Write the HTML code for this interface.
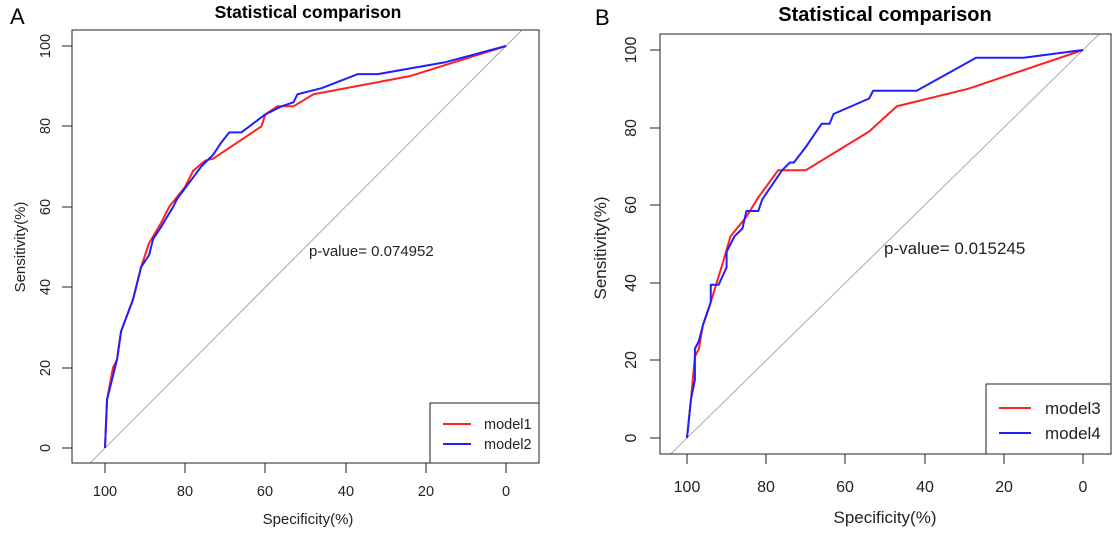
<!DOCTYPE html>
<html><head><meta charset="utf-8"><style>
html,body{margin:0;padding:0;background:#fff;}
svg{display:block;font-family:"Liberation Sans",sans-serif;}
</style></head><body>
<svg width="1119" height="534" viewBox="0 0 1119 534" xmlns="http://www.w3.org/2000/svg">
<defs>
<clipPath id="ca"><rect x="72" y="30" width="467" height="433"/></clipPath>
<clipPath id="cb"><rect x="660" y="34" width="451" height="420"/></clipPath>
</defs>
<!-- Panel A -->
<text x="10" y="24" font-size="22">A</text>
<text x="308" y="18" font-size="17.5" font-weight="bold" text-anchor="middle">Statistical comparison</text>
<g clip-path="url(#ca)">
<g transform="translate(105,448) scale(4.01,-4.02)" fill="none" stroke-linejoin="round">
<line x1="-20" y1="-20" x2="120" y2="120" stroke="#aaa" stroke-width="1" vector-effect="non-scaling-stroke"/>
<polyline stroke="#ff2020" stroke-width="2" vector-effect="non-scaling-stroke" points="0,0 0.5,12 2,20 3,22 4,29 7,37 9,45 11,51 14,56 16,60 20,65 22,69 25,71.5 27,72 39,80 40,83 43,85 47,85 52,88 76,92.5 100,100"/>
<polyline stroke="#2020ff" stroke-width="2" vector-effect="non-scaling-stroke" points="0,0 0.5,12 3,22 4,29 7,37 9,45 11,48 12,52 14,55 17,60 18,62 21,66 24,70 27,73 29,76 31,78.5 34,78.5 40,83 44,85 47,86 48,88 54,89.5 63,93 68,93 85,96 100,100"/>
</g></g>
<rect x="72" y="30" width="467" height="433" fill="none" stroke="#222" stroke-width="1"/>
<g stroke="#222">
<line x1="105" y1="463" x2="506" y2="463"/>
<line x1="105" y1="463" x2="105" y2="473"/><line x1="185" y1="463" x2="185" y2="473"/><line x1="265" y1="463" x2="265" y2="473"/><line x1="346" y1="463" x2="346" y2="473"/><line x1="426" y1="463" x2="426" y2="473"/><line x1="506" y1="463" x2="506" y2="473"/>
<line x1="72" y1="46" x2="72" y2="448"/>
<line x1="62" y1="46" x2="72" y2="46"/><line x1="62" y1="126" x2="72" y2="126"/><line x1="62" y1="207" x2="72" y2="207"/><line x1="62" y1="287" x2="72" y2="287"/><line x1="62" y1="368" x2="72" y2="368"/><line x1="62" y1="448" x2="72" y2="448"/>
</g>
<g font-size="14.5" fill="#222" text-anchor="middle">
<text x="105" y="496">100</text><text x="185" y="496">80</text><text x="265" y="496">60</text><text x="346" y="496">40</text><text x="426" y="496">20</text><text x="506" y="496">0</text>
<text transform="translate(50,46) rotate(-90)">100</text>
<text transform="translate(50,126) rotate(-90)">80</text>
<text transform="translate(50,207) rotate(-90)">60</text>
<text transform="translate(50,287) rotate(-90)">40</text>
<text transform="translate(50,368) rotate(-90)">20</text>
<text transform="translate(50,448) rotate(-90)">0</text>
</g>
<g font-size="15" fill="#222" text-anchor="middle">
<text x="308" y="524">Specificity(%)</text>
<text transform="translate(25,247) rotate(-90)">Sensitivity(%)</text>
</g>
<text x="309" y="256" font-size="15" fill="#222">p-value= 0.074952</text>
<rect x="430" y="403" width="109" height="60" fill="#fff" stroke="#222"/>
<line x1="443" y1="424" x2="471" y2="424" stroke="#ff2020" stroke-width="2"/>
<line x1="443" y1="444" x2="471" y2="444" stroke="#2020ff" stroke-width="2"/>
<text x="484" y="429" font-size="14.5" fill="#222">model1</text>
<text x="484" y="449" font-size="14.5" fill="#222">model2</text>

<!-- Panel B -->
<text x="595" y="25" font-size="22">B</text>
<text x="885" y="21" font-size="20" font-weight="bold" text-anchor="middle">Statistical comparison</text>
<g clip-path="url(#cb)">
<g transform="translate(687,438) scale(3.96,-3.88)" fill="none" stroke-linejoin="round">
<line x1="-20" y1="-20" x2="120" y2="120" stroke="#aaa" stroke-width="1" vector-effect="non-scaling-stroke"/>
<polyline stroke="#ff2020" stroke-width="2" vector-effect="non-scaling-stroke" points="0,0 1,10 2,21 3,23 4,29 6,35 9,45 11,52 15,57 18,62 23,69 30,69 46,79 53,85.5 71,90 100,100"/>
<polyline stroke="#2020ff" stroke-width="2" vector-effect="non-scaling-stroke" points="0,0 1,10 2,15 2,23 3,25 4,29 6,35 6,39.5 8,39.5 10,44 10,48 12,52 14,54 15,58.5 18,58.5 19,61.5 24,69 26,71 27,71 30,75 34,81 36,81 37,83.5 46,87.5 47,89.5 58,89.5 73,98 85,98 100,100"/>
</g></g>
<rect x="660" y="34" width="451" height="420" fill="none" stroke="#222" stroke-width="1"/>
<g stroke="#222">
<line x1="687" y1="454" x2="1083" y2="454"/>
<line x1="687" y1="454" x2="687" y2="464"/><line x1="766" y1="454" x2="766" y2="464"/><line x1="845" y1="454" x2="845" y2="464"/><line x1="925" y1="454" x2="925" y2="464"/><line x1="1004" y1="454" x2="1004" y2="464"/><line x1="1083" y1="454" x2="1083" y2="464"/>
<line x1="660" y1="50" x2="660" y2="438"/>
<line x1="650" y1="50" x2="660" y2="50"/><line x1="650" y1="128" x2="660" y2="128"/><line x1="650" y1="205" x2="660" y2="205"/><line x1="650" y1="283" x2="660" y2="283"/><line x1="650" y1="360" x2="660" y2="360"/><line x1="650" y1="438" x2="660" y2="438"/>
</g>
<g font-size="16" fill="#222" text-anchor="middle">
<text x="687" y="492">100</text><text x="766" y="492">80</text><text x="845" y="492">60</text><text x="925" y="492">40</text><text x="1004" y="492">20</text><text x="1083" y="492">0</text>
<text transform="translate(636,50) rotate(-90)">100</text>
<text transform="translate(636,128) rotate(-90)">80</text>
<text transform="translate(636,205) rotate(-90)">60</text>
<text transform="translate(636,283) rotate(-90)">40</text>
<text transform="translate(636,360) rotate(-90)">20</text>
<text transform="translate(636,438) rotate(-90)">0</text>
</g>
<g font-size="17" fill="#222" text-anchor="middle">
<text x="885" y="523">Specificity(%)</text>
<text transform="translate(606,248) rotate(-90)">Sensitivity(%)</text>
</g>
<text x="884" y="254" font-size="17" fill="#222">p-value= 0.015245</text>
<rect x="986" y="384" width="125" height="70" fill="#fff" stroke="#222"/>
<line x1="999" y1="408" x2="1031" y2="408" stroke="#ff2020" stroke-width="2"/>
<line x1="999" y1="433" x2="1031" y2="433" stroke="#2020ff" stroke-width="2"/>
<text x="1045" y="414" font-size="17" fill="#222">model3</text>
<text x="1045" y="439" font-size="17" fill="#222">model4</text>
</svg>
</body></html>
